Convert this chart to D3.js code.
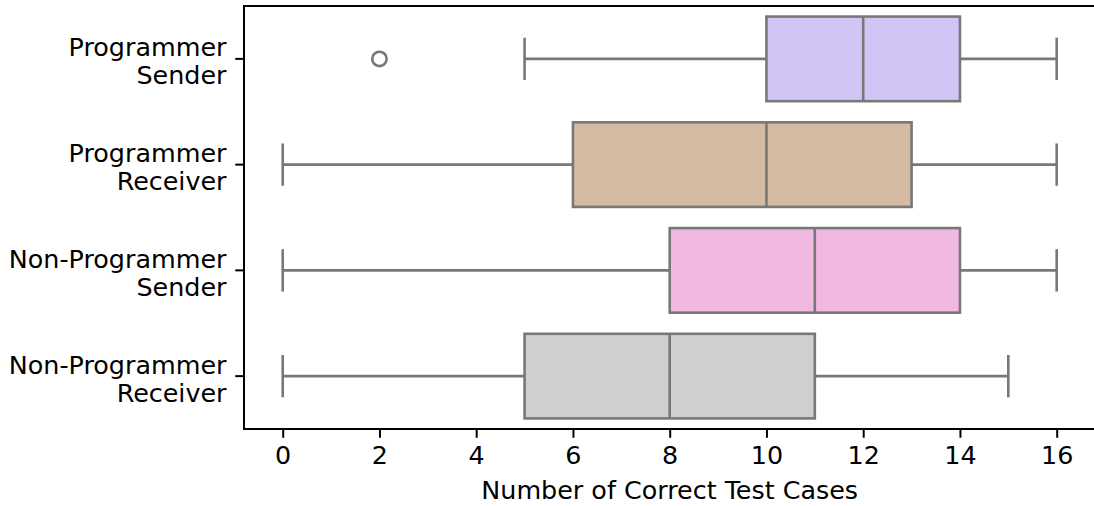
<!DOCTYPE html>
<html>
<head>
<meta charset="utf-8">
<script src="https://cdn.jsdelivr.net/npm/d3@7"></script>
<style>
  html, body { margin: 0; padding: 0; background: #fff; }
  svg { display: block; font-family: "DejaVu Sans", sans-serif; }
</style>
</head>
<body>
<svg id="chart" width="1094" height="506"></svg>
<script>
// Groups (one box per row, top to bottom)
const categories = [
  "Programmer\nSender",
  "Programmer\nReceiver",
  "Non-Programmer\nSender",
  "Non-Programmer\nReceiver"
];
// Five-number summaries per group
const whiskerLow = [5, 0, 0, 0];
const q1         = [10, 6, 8, 5];
const median     = [12, 10, 11, 8];
const q3         = [14, 13, 14, 11];
const whiskerHigh = [16, 16, 16, 15];
// Outlying points per group
const outliers = [[2], [], [], []];
const fills = ["#d3c4f6", "#d6bba3", "#f1b9e0", "#cfcfcf"];
const xTicks = [0, 2, 4, 6, 8, 10, 12, 14, 16];
const xLabel = "Number of Correct Test Cases";

const svg = d3.select("#chart");
const plot = { left: 244, right: 1095.4, top: 6, bottom: 429 };
const lineColor = "#787878";
const fontSize = 25.4;

const x = d3.scaleLinear().domain([-0.8, 16.8]).range([plot.left, plot.right]);
const y = d3.scaleBand().domain(categories).range([plot.top, plot.bottom]).padding(0);

const boxH = y.bandwidth() * 0.8;
const capH = boxH * 0.5;

const rows = categories.map((c, i) => ({
  cat: c, lo: whiskerLow[i], q1: q1[i], med: median[i], q3: q3[i], hi: whiskerHigh[i],
  out: outliers[i], fill: fills[i]
}));

const g = svg.append("g");
rows.forEach(d => {
  const cy = y(d.cat) + y.bandwidth() / 2;
  const grp = g.append("g").attr("stroke", lineColor).attr("stroke-width", 2.6);
  // whiskers
  grp.append("line").attr("x1", x(d.lo)).attr("x2", x(d.q1)).attr("y1", cy).attr("y2", cy);
  grp.append("line").attr("x1", x(d.q3)).attr("x2", x(d.hi)).attr("y1", cy).attr("y2", cy);
  // caps
  grp.append("line").attr("x1", x(d.lo)).attr("x2", x(d.lo)).attr("y1", cy - capH / 2).attr("y2", cy + capH / 2);
  grp.append("line").attr("x1", x(d.hi)).attr("x2", x(d.hi)).attr("y1", cy - capH / 2).attr("y2", cy + capH / 2);
  // box
  grp.append("rect").attr("x", x(d.q1)).attr("y", cy - boxH / 2)
    .attr("width", x(d.q3) - x(d.q1)).attr("height", boxH).attr("fill", d.fill);
  // median
  grp.append("line").attr("x1", x(d.med)).attr("x2", x(d.med)).attr("y1", cy - boxH / 2).attr("y2", cy + boxH / 2);
  // outliers
  d.out.forEach(v => {
    grp.append("circle").attr("cx", x(v)).attr("cy", cy).attr("r", 7.2).attr("fill", "none");
  });
});

// frame
svg.append("rect")
  .attr("x", plot.left).attr("y", plot.top)
  .attr("width", plot.right - plot.left).attr("height", plot.bottom - plot.top)
  .attr("fill", "none").attr("stroke", "#000").attr("stroke-width", 2);

// x axis
const xAxis = svg.append("g").attr("transform", `translate(0,${plot.bottom})`)
  .call(d3.axisBottom(x).tickValues(xTicks).tickFormat(d3.format("d")).tickSize(8.75).tickPadding(8.5));
xAxis.select(".domain").remove();
xAxis.selectAll(".tick line").attr("stroke", "#000").attr("stroke-width", 2);
xAxis.selectAll(".tick text").attr("font-size", fontSize).attr("fill", "#000")
  .attr("font-family", "DejaVu Sans");

// y axis
const yAxis = svg.append("g").attr("transform", `translate(${plot.left},0)`)
  .call(d3.axisLeft(y).tickSize(8.75).tickPadding(8.75).tickFormat(""));
yAxis.select(".domain").remove();
yAxis.selectAll(".tick line").attr("stroke", "#000").attr("stroke-width", 2);
yAxis.selectAll(".tick").each(function(d) {
  const t = d3.select(this).select("text")
    .attr("font-size", fontSize).attr("fill", "#000").attr("font-family", "DejaVu Sans")
    .attr("text-anchor", "end").attr("dy", null).attr("x", -17.5);
  const parts = d.split("\n");
  t.text(null);
  parts.forEach((p, k) => {
    t.append("tspan").attr("x", -17.5).attr("y", k === 0 ? -2.6 : 25.4).text(p);
  });
});

// x axis title
svg.append("text")
  .attr("x", (plot.left + plot.right) / 2).attr("y", 498.5)
  .attr("text-anchor", "middle").attr("font-size", fontSize).attr("fill", "#000")
  .text(xLabel);
</script>
</body>
</html>
